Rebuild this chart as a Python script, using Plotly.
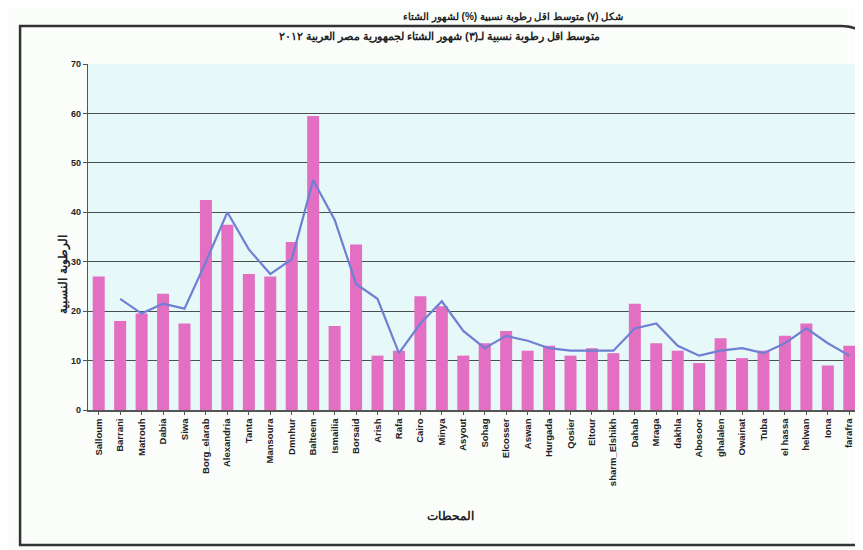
import plotly.graph_objects as go

# المحطات
stations = ["Salloum", "Barrani", "Matrouh", "Dabia", "Siwa", "Borg_elarab", "Alexandria",
            "Tanta", "Mansoura", "Dmnhur", "Balteem", "Ismailia", "Borsaid", "Arish", "Rafa",
            "Cairo", "Minya", "Asyout", "Sohag", "Elcosser", "Aswan", "Hurgada", "Qosier",
            "Eltour", "sharm_Elshikh", "Dahab", "Mraga", "dakhla", "Abosoor", "ghalalen",
            "Owainat", "Tuba", "el hassa", "helwan", "Iona", "farafra"]

# متوسط اقل رطوبة نسبية
humidity = [27, 18, 19.5, 23.5, 17.5, 42.5, 37.5, 27.5, 27, 34, 59.5, 17, 33.5, 11, 12,
            23, 21, 11, 13.5, 16, 12, 13, 11, 12.5, 11.5, 21.5, 13.5, 12, 9.5, 14.5,
            10.5, 12, 15, 17.5, 9, 13]

# خط المتوسط المتحرك (مقروء من الشكل)
trend = [None, 22.5, 19.5, 21.5, 20.5, 30, 40, 32.5, 27.5, 30.5, 46.5, 38.5, 25.5, 22.5,
         11.5, 17.5, 22, 16, 12.5, 15, 14, 12.5, 12, 12, 12, 16.5, 17.5, 13, 11, 12,
         12.5, 11.5, 13.5, 16.5, 13.5, 11]

y_ticks = list(range(0, 80, 10))

fig = go.Figure()

fig.add_trace(go.Bar(x=stations, y=humidity, marker_color="#e36fc3",
                     marker_line_width=0, showlegend=False))

fig.add_trace(go.Scatter(x=stations, y=trend, mode="lines", showlegend=False,
                         line=dict(color="#6f7fd3", width=2.2)))

# إطار الشكل
fig.add_shape(type="path", xref="paper", yref="paper",
              path="M -0.088,1.11 L 0.975,1.11 Q 1.008,1.11 1.008,1.05 L 1.008,-0.39 "
                   "L -0.088,-0.39 Z",
              line=dict(color="#333333", width=2.5), layer="below")

fig.add_annotation(text="<b>شكل (٧) متوسط اقل رطوبة نسبية (%) لشهور الشتاء</b>",
                   xref="paper", yref="paper", x=0.55, y=1.16, yanchor="top",
                   showarrow=False, font=dict(size=10, color="#222222"))

fig.add_annotation(text="<b>الرطوبة النسبية</b>", textangle=-90,
                   xref="paper", yref="paper", x=-0.045, y=0.39,
                   showarrow=False, font=dict(size=12, color="#222222"))

fig.add_annotation(text="<b>المحطات</b>",
                   xref="paper", yref="paper", x=0.47, y=-0.333,
                   showarrow=False, font=dict(size=12, color="#222222"))

fig.update_layout(
    width=863, height=550,
    margin=dict(l=80, r=11, t=56, b=148),
    paper_bgcolor="#fbfdfb",
    plot_bgcolor="#e7f8f8",
    bargap=0.44,
    font=dict(family="Liberation Sans", color="#222222"),
    title=dict(text="<b>متوسط اقل رطوبة نسبية لـ(٣) شهور الشتاء لجمهورية مصر العربية ٢٠١٢</b>",
               x=0.5, xanchor="center", y=0.955, yanchor="top",
               font=dict(size=11, color="#222222")),
    xaxis=dict(tickangle=-90, tickfont=dict(size=9.5),
               tickvals=stations, ticktext=["<b>" + s + "</b>" for s in stations],
               showline=True, linecolor="#555555", linewidth=1.5,
               ticks="outside", ticklen=3, tickcolor="#555555"),
    yaxis=dict(range=[0, 70], tickvals=y_ticks,
               ticktext=["<b>" + str(v) + "</b>" for v in y_ticks],
               tickfont=dict(size=9),
               showgrid=True, gridcolor="#4a4f4f", gridwidth=1.3,
               showline=True, linecolor="#555555", linewidth=1.2,
               ticks="outside", ticklen=4, tickcolor="#555555", zeroline=False),
)

fig.write_html("out.html")
